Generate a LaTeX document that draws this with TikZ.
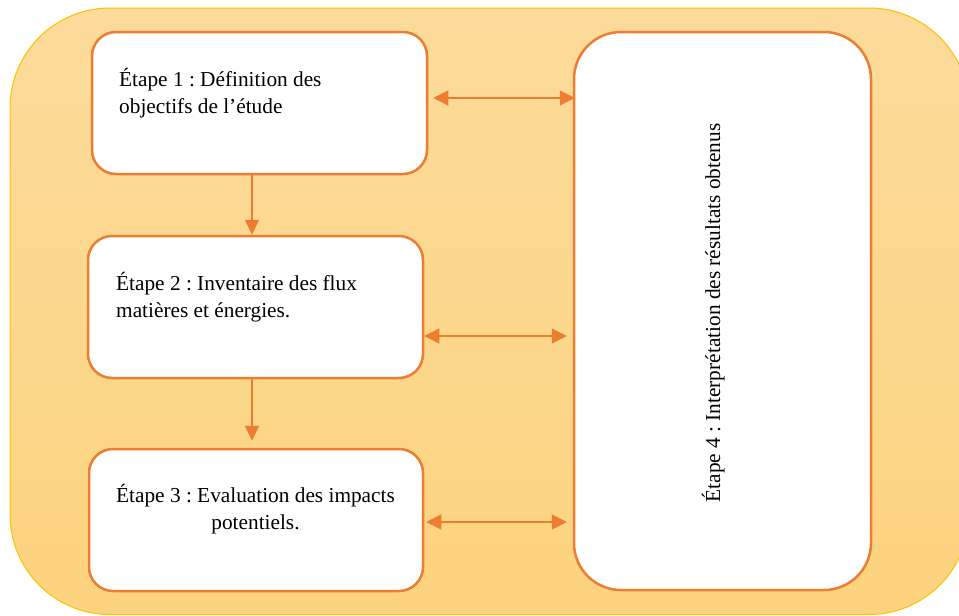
\documentclass[tikz,border=0pt]{standalone}
\usepackage{fontspec}
\setmainfont{Liberation Serif}
\usetikzlibrary{arrows.meta,calc}
\definecolor{orangeline}{RGB}{237,125,49}
\definecolor{goldline}{RGB}{255,192,0}
\definecolor{bgtop}{RGB}{252,219,155}
\definecolor{bgbot}{RGB}{252,211,126}
\tikzset{
  stepbox/.style={draw=orangeline, line width=2.5pt, fill=white, rounded corners=24pt, inner sep=0pt},
  bigbox/.style={stepbox, rounded corners=47pt},
  txt/.style={font=\fontsize{21.3}{27}\selectfont\frenchspacing, inner sep=0pt, text=black},
  arr/.style={draw=orangeline, line width=1.3pt, -{Triangle[length=15pt,width=14pt]}},
  dbl/.style={draw=orangeline, line width=1.3pt, {Triangle[length=15pt,width=15pt]}-{Triangle[length=15pt,width=15pt]}},
}
\begin{document}
\begin{tikzpicture}[x=1pt,y=-1pt]
\useasboundingbox (0,0) rectangle (959,616);
\begin{scope}
\clip (0,0) rectangle (959,616);
\path[top color=bgtop, bottom color=bgbot, draw=goldline, line width=1pt, rounded corners=100pt] (10,8) rectangle (969,614.5);
\end{scope}
\node[stepbox, minimum width=335pt, minimum height=142pt] (b1) at (259.5,103) {};
\node[stepbox, minimum width=335pt, minimum height=142pt] (b2) at (255.5,307) {};
\node[stepbox, minimum width=334pt, minimum height=142pt] (b3) at (256,520) {};
\node[bigbox, minimum width=297pt, minimum height=558pt] (b4) at (722.5,311) {};
\node[txt, anchor=base west, align=left] (t1) at (119,113) {Étape 1 : Définition des\\objectifs de l’étude};
\node[txt, anchor=base west, align=left] (t2) at (116,317) {Étape 2 : Inventaire des flux\\matières et énergies.};
\node[txt, anchor=base, align=center] (t3) at (255.5,529) {Étape 3 : Evaluation des impacts\\potentiels.};
\node[txt, anchor=base, rotate=90] (t4) at (720,313) {Étape 4 : Interprétation des résultats obtenus};
\draw[arr] ($(b1.south)+(-7.5,0)$) -- ($(b2.north)+(-3.5,0)$);
\draw[arr] ($(b2.south)+(-3.5,0)$) -- ($(b3.north)+(-4,-7)$);
\draw[dbl] ($(b1.east)+(5,-5)$) -- ($(b1.east -| b4.west)+(2,-5)$);
\draw[dbl] ($(b2.east)+(0,29)$) -- ($(b2.east -| b4.west)+(-6,29)$);
\draw[dbl] ($(b3.east)+(2,2)$) -- ($(b3.east -| b4.west)+(-6,2)$);
\end{tikzpicture}
\end{document}
